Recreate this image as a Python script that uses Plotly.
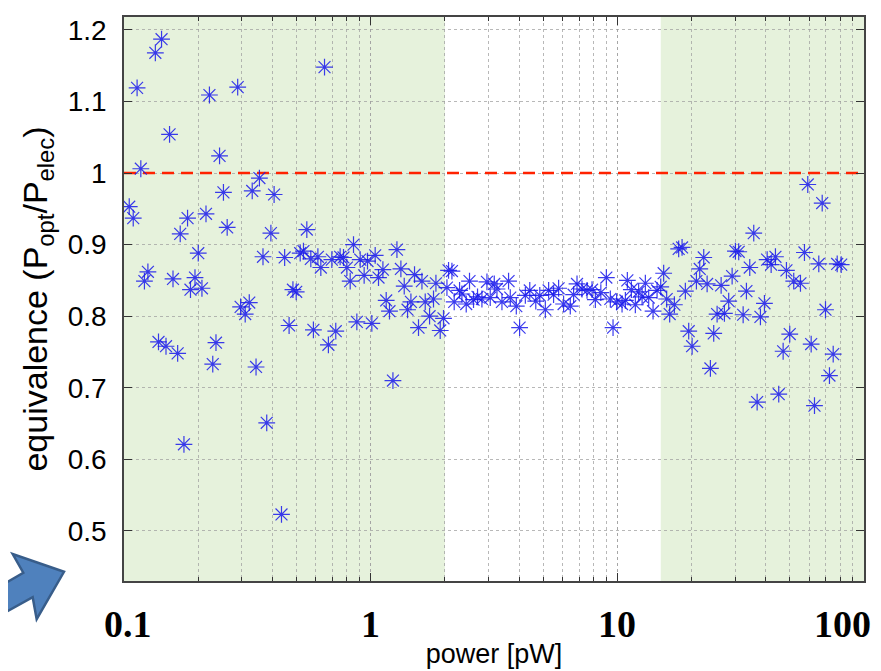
import math
import plotly.graph_objects as go

# measured points: power [pW] and equivalence ratio
power = [
    0.105, 0.109, 0.113, 0.117, 0.121, 0.125, 0.134, 0.138, 0.142, 0.148,
    0.153, 0.158, 0.165, 0.169, 0.175, 0.181, 0.186, 0.194, 0.200, 0.207,
    0.215, 0.222, 0.229, 0.236, 0.244, 0.253, 0.262, 0.289, 0.297, 0.310,
    0.322, 0.331, 0.343, 0.354, 0.366, 0.379, 0.394, 0.406, 0.435, 0.448,
    0.467, 0.484, 0.499, 0.518, 0.534, 0.551, 0.572, 0.586, 0.611, 0.628,
    0.650, 0.674, 0.696, 0.722, 0.752, 0.776, 0.801, 0.826, 0.852, 0.879,
    0.907, 0.941, 0.971, 1.011, 1.043, 1.076, 1.121, 1.156, 1.192, 1.231,
    1.278, 1.326, 1.368, 1.411, 1.456, 1.506, 1.563, 1.614, 1.664, 1.733,
    1.798, 1.839, 1.914, 1.974, 2.038, 2.069, 2.135, 2.181, 2.293, 2.344,
    2.440, 2.516, 2.612, 2.712, 2.825, 2.961, 3.053, 3.170, 3.251, 3.406,
    3.623, 3.681, 3.894, 4.016, 4.237, 4.416, 4.671, 4.848, 5.106, 5.266,
    5.515, 5.780, 6.055, 6.446, 6.648, 6.863, 7.192, 7.536, 7.897, 8.144,
    8.573, 9.025, 9.367, 9.607, 9.936, 10.45, 10.78, 10.98, 11.40, 11.83,
    12.20, 12.60, 12.99, 13.40, 13.96, 14.49, 14.99, 15.41, 15.85, 16.30,
    17.03, 17.73, 18.30, 18.87, 19.47, 20.10, 20.92, 21.58, 22.40, 23.12,
    23.84, 24.59, 25.38, 26.35, 27.17, 28.28, 29.20, 30.11, 31.05, 32.36,
    33.37, 34.42, 35.73, 36.88, 38.03, 39.48, 40.49, 42.03, 43.75, 45.12,
    47.01, 48.48, 50.00, 51.90, 55.26, 57.36, 59.16, 61.07, 62.99, 65.57,
    67.69, 69.81, 72.44, 75.01, 77.86, 80.82,
]
equivalence = [
    0.953, 0.937, 1.119, 1.006, 0.849, 0.862, 1.168, 0.764, 1.187, 0.758,
    1.054, 0.852, 0.748, 0.915, 0.621, 0.937, 0.837, 0.854, 0.888, 0.839,
    0.943, 1.109, 0.733, 0.763, 1.024, 0.973, 0.924, 1.120, 0.813, 0.803,
    0.819, 0.975, 0.729, 0.993, 0.883, 0.651, 0.916, 0.970, 0.523, 0.882,
    0.787, 0.837, 0.834, 0.888, 0.891, 0.921, 0.880, 0.781, 0.883, 0.868,
    1.148, 0.760, 0.879, 0.779, 0.883, 0.882, 0.868, 0.849, 0.900, 0.792,
    0.879, 0.857, 0.877, 0.790, 0.885, 0.854, 0.865, 0.822, 0.807, 0.710,
    0.893, 0.866, 0.842, 0.809, 0.820, 0.858, 0.784, 0.849, 0.820, 0.800,
    0.824, 0.846, 0.780, 0.797, 0.840, 0.864, 0.863, 0.820, 0.836, 0.831,
    0.817, 0.849, 0.823, 0.827, 0.824, 0.848, 0.826, 0.845, 0.838, 0.820,
    0.849, 0.826, 0.814, 0.784, 0.829, 0.836, 0.821, 0.829, 0.809, 0.836,
    0.830, 0.839, 0.817, 0.814, 0.830, 0.845, 0.838, 0.836, 0.837, 0.823,
    0.833, 0.854, 0.824, 0.784, 0.820, 0.817, 0.822, 0.850, 0.837, 0.816,
    0.834, 0.827, 0.846, 0.826, 0.807, 0.836, 0.841, 0.860, 0.824, 0.803,
    0.816, 0.894, 0.896, 0.835, 0.779, 0.758, 0.849, 0.866, 0.882, 0.845,
    0.727, 0.776, 0.803, 0.843, 0.804, 0.821, 0.856, 0.891, 0.890, 0.802,
    0.835, 0.868, 0.916, 0.680, 0.799, 0.818, 0.879, 0.872, 0.883, 0.691,
    0.751, 0.864, 0.775, 0.849, 0.846, 0.889, 0.984, 0.761, 0.675, 0.873,
    0.958, 0.809, 0.717, 0.747, 0.873, 0.872,
]

# ideal equivalence reference
ref_x = [0.1, 100]
ref_y = [1.0, 1.0]

# shaded power ranges [pW]
shaded_ranges = [(0.1, 2.0), (15.0, 100.0)]

x_ticks = [0.1, 1, 10, 100]
x_ticktext = ["0.1", "1", "10", "100"]
y_ticks = [0.5, 0.6, 0.7, 0.8, 0.9, 1.0, 1.1, 1.2]
y_ticktext = ["0.5", "0.6", "0.7", "0.8", "0.9", "1", "1.1", "1.2"]

fig = go.Figure()

fig.add_trace(go.Scatter(
    x=ref_x, y=ref_y, mode="lines",
    line=dict(color="#ff2200", width=2.5, dash="12px,7px"),
    showlegend=False, hoverinfo="skip",
))

fig.add_trace(go.Scatter(
    x=power, y=equivalence, mode="markers",
    marker=dict(symbol="asterisk-open", size=14, color="rgba(25,25,235,0.85)",
                line=dict(color="rgba(25,25,235,0.85)", width=1.2)),
    showlegend=False,
))

shapes = []
for x0, x1 in shaded_ranges:
    shapes.append(dict(type="rect", xref="x", yref="paper", x0=x0, x1=x1, y0=0, y1=1,
                       fillcolor="#e6f2dc", line=dict(width=0), layer="below"))

# decorative block arrow in the lower-left corner
shapes.append(dict(
    type="path", xref="paper", yref="paper",
    path="M -0.1716,-0.0124 L -0.1361,0.0147 L -0.1504,0.0477 L -0.0811,0.0164 "
         "L -0.118,-0.0677 L -0.1234,-0.0288 L -0.1716,-0.0636 Z",
    fillcolor="#4f81bd", line=dict(color="#385d8a", width=2.5), layer="above",
))

# big bold power labels under the axis (pasted-on look of the original)
annotations = []
for v, t in zip(x_ticks, x_ticktext):
    annotations.append(dict(
        x=math.log10(v), y=0, xref="x", yref="paper", text="<b>" + t + "</b>",
        showarrow=False, yanchor="top", yshift=-20,
        xshift=-22 if v == 100 else (4 if v == 0.1 else 0),
        font=dict(family="Liberation Serif, Times New Roman", size=38, color="black"),
    ))

grid = "rgba(160,160,160,0.75)"
fig.update_layout(
    width=873, height=663,
    margin=dict(l=116, r=17, t=7, b=90),
    paper_bgcolor="white", plot_bgcolor="white",
    shapes=shapes, annotations=annotations,
    font=dict(family="Liberation Sans, Arial", color="black"),
    xaxis=dict(
        type="log", range=[-1, 2],
        tickvals=x_ticks, showticklabels=False,
        ticks="inside", ticklen=8, tickcolor="#333",
        showgrid=True, gridcolor=grid, griddash="dot", gridwidth=1,
        minor=dict(dtick="D1", ticks="inside", ticklen=4, tickcolor="#333",
                   showgrid=True, gridcolor=grid, griddash="dot"),
        showline=True, linecolor="#444", linewidth=1.5, mirror="allticks",
        title=dict(text="power [pW]", font=dict(size=27), standoff=62),
        zeroline=False,
    ),
    yaxis=dict(
        range=[0.43, 1.218],
        tickvals=y_ticks, ticktext=y_ticktext,
        tickfont=dict(size=28),
        ticks="inside", ticklen=8, tickcolor="#333", ticklabelstandoff=10,
        showgrid=True, gridcolor=grid, griddash="dot", gridwidth=1,
        showline=True, linecolor="#444", linewidth=1.5, mirror="allticks",
        title=dict(text="equivalence (P<sub>opt</sub>/P<sub>elec</sub>)",
                   font=dict(size=34), standoff=10),
        zeroline=False,
    ),
)

fig.write_html("out.html")
